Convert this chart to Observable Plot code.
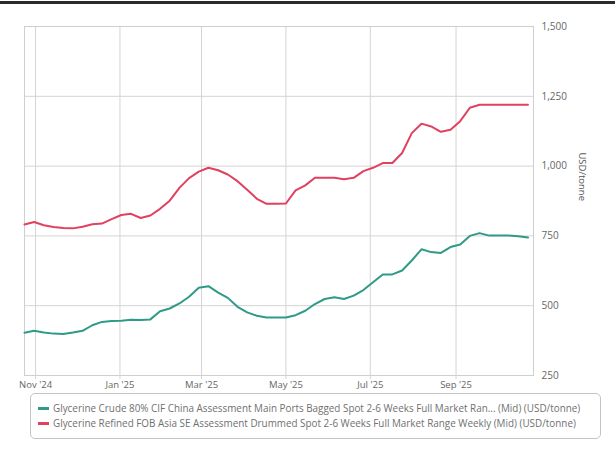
<!DOCTYPE html>
<html>
<head>
<meta charset="utf-8">
<script src="https://cdn.jsdelivr.net/npm/d3@7"></script>
<script src="https://cdn.jsdelivr.net/npm/@observablehq/plot@0.6"></script>
<style>
  body { margin: 0; background: #fff; font-family: "Open Sans", sans-serif; }
  #topbar { height: 3px; background: #2b2b2b; margin-top: 1px; }
  #legend { margin: 1px 0 0 30px; width: 571px; border: 1px solid #c4c4c4; border-radius: 5px;
            padding: 7px 0 7px 7px; box-sizing: border-box; font-size: 9.9px; color: #707070; line-height: 15px; }
  .item { white-space: nowrap; }
  .sw { display: inline-block; width: 11px; height: 2.5px; vertical-align: middle; margin-right: 4px; position: relative; top: -1px; }
</style>
</head>
<body>
<div id="topbar"></div>
<div id="chart"></div>
<div id="legend"></div>
<script>
const dates = ["2024-10-24","2024-10-31","2024-11-07","2024-11-14","2024-11-21","2024-11-28","2024-12-05","2024-12-12","2024-12-19","2024-12-26",
  "2025-01-02","2025-01-09","2025-01-16","2025-01-23","2025-01-30","2025-02-06","2025-02-13","2025-02-20","2025-02-27",
  "2025-03-06","2025-03-13","2025-03-20","2025-03-27","2025-04-03","2025-04-10","2025-04-17","2025-04-24",
  "2025-05-01","2025-05-08","2025-05-15","2025-05-22","2025-05-29","2025-06-05","2025-06-12","2025-06-19","2025-06-26",
  "2025-07-03","2025-07-10","2025-07-17","2025-07-24","2025-07-31","2025-08-07","2025-08-14","2025-08-21","2025-08-28",
  "2025-09-04","2025-09-11","2025-09-18","2025-09-25","2025-10-02","2025-10-09","2025-10-16","2025-10-23"];
const crude = [403,410,404,400,399,404,410,430,442,445,446,450,449,451,480,490,508,532,564,570,547,528,496,476,464,458,458,458,
  466,482,506,524,530,524,536,556,584,612,612,626,662,702,692,689,710,719,750,760,751,751,751,749,744];
const refined = [791,800,788,782,778,777,783,792,794,810,825,829,814,823,847,876,922,957,980,994,985,970,946,915,883,865,865,866,
  913,931,958,958,958,953,958,982,994,1011,1011,1047,1118,1152,1142,1123,1130,1161,1209,1220,1220,1220,1220,1220,1220];
const seriesNames = [
  "Glycerine Crude 80% CIF China Assessment Main Ports Bagged Spot 2-6 Weeks Full Market Ran... (Mid) (USD/tonne)",
  "Glycerine Refined FOB Asia SE Assessment Drummed Spot 2-6 Weeks Full Market Range Weekly (Mid) (USD/tonne)"
];
const seriesColors = ["#2e9a87", "#e2405f"];
const xTicks = ["2024-11-01","2025-01-01","2025-03-01","2025-05-01","2025-07-01","2025-09-01"];
const yTicks = [250,500,750,1000,1250,1500];
const yLabel = "USD/tonne";

const data = [];
dates.forEach((d, i) => {
  data.push({date: new Date(d), value: crude[i], series: seriesNames[0]});
  data.push({date: new Date(d), value: refined[i], series: seriesNames[1]});
});
const xt = xTicks.map(d => new Date(d));
const fmt = d3.utcFormat("%b '%y");

const chart = Plot.plot({
  width: 615, height: 388,
  marginLeft: 24, marginRight: 82, marginTop: 22, marginBottom: 17,
  style: {fontFamily: "Open Sans, sans-serif", fontSize: "9.5px", color: "#666"},
  x: {type: "utc", domain: [new Date("2024-10-24"), new Date("2025-10-27")]},
  y: {domain: [250, 1500]},
  color: {domain: seriesNames, range: seriesColors},
  marks: [
    Plot.gridY(yTicks, {stroke: "#d4d4d4", strokeOpacity: 1}),
    Plot.gridX(xt, {stroke: "#d4d4d4", strokeOpacity: 1}),
    Plot.frame({stroke: "#cfcfcf"}),
    Plot.axisX(xt, {tickFormat: fmt, tickSize: 4, tickPadding: 2, stroke: "#d4d4d4", fill: "#666", label: null}),
    Plot.axisY(yTicks, {anchor: "right", tickFormat: d3.format(","), tickSize: 0, tickPadding: 8, fill: "#666", label: null, fontSize: 10}),
    Plot.text([yLabel], {frameAnchor: "right", dx: 49, rotate: 90, fill: "#555", fontSize: 9.5}),
    Plot.line(data, {x: "date", y: "value", z: "series", stroke: "series", strokeWidth: 2, curve: "linear"})
  ]
});
document.getElementById("chart").appendChild(chart);

const legend = document.getElementById("legend");
seriesNames.forEach((n, i) => {
  const div = document.createElement("div");
  div.className = "item";
  div.innerHTML = `<span class="sw" style="background:${seriesColors[i]}"></span>${n}`;
  legend.appendChild(div);
});
</script>
</body>
</html>
